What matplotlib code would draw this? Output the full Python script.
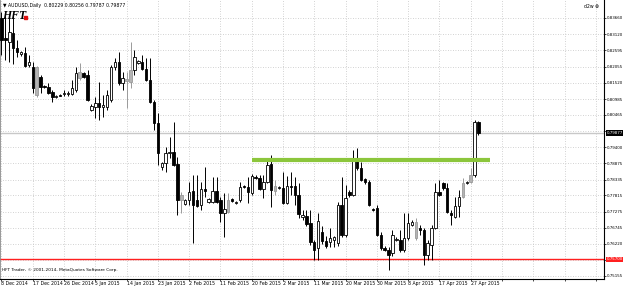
import matplotlib
matplotlib.use("Agg")
import matplotlib.pyplot as plt
from matplotlib.patches import Rectangle

# AUDUSD daily bars, 8 Dec 2014 .. 29 Apr 2015
opens = [0.8366, 0.8300, 0.8286, 0.8316, 0.8267, 0.8247, 0.8250, 0.8211, 0.8204, 0.8204,
         0.8171, 0.8141, 0.8138, 0.8121, 0.8107, 0.8112, 0.8116, 0.8116, 0.8115, 0.8128,
         0.8168, 0.8184, 0.8178, 0.8062, 0.8072, 0.8085, 0.8072, 0.8072, 0.8095, 0.8204,
         0.8220, 0.8151, 0.8164, 0.8154, 0.8194, 0.8217, 0.8220, 0.8197, 0.8161, 0.8088,
         0.8019, 0.7874, 0.7887, 0.7920, 0.7923, 0.7884, 0.7765, 0.7752, 0.7765, 0.7795,
         0.7765, 0.7749, 0.7801, 0.7758, 0.7758, 0.7795, 0.7765, 0.7722, 0.7725, 0.7768,
         0.7755, 0.7765, 0.7811, 0.7808, 0.7788, 0.7841, 0.7838, 0.7801, 0.7824, 0.7884,
         0.7811, 0.7805, 0.7805, 0.7755, 0.7811, 0.7811, 0.7782, 0.7709, 0.7712, 0.7689,
         0.7626, 0.7607, 0.7659, 0.7630, 0.7626, 0.7633, 0.7623, 0.7749, 0.7650, 0.7791,
         0.7782, 0.7897, 0.7871, 0.7834, 0.7824, 0.7735, 0.7739, 0.7650, 0.7607, 0.7600,
         0.7590, 0.7635, 0.7633, 0.7600, 0.7640, 0.7683, 0.7640, 0.7673, 0.7666, 0.7584,
         0.7617, 0.7673, 0.7791, 0.7821, 0.7805, 0.7722, 0.7709, 0.7745, 0.7775, 0.7821,
         0.7824, 0.7848, 0.80229]
highs = [0.8385, 0.8376, 0.8376, 0.8376, 0.8293, 0.8257, 0.8270, 0.8244, 0.8220, 0.8207,
         0.8178, 0.8145, 0.8151, 0.8128, 0.8112, 0.8115, 0.8128, 0.8125, 0.8161, 0.8204,
         0.8217, 0.8187, 0.8194, 0.8082, 0.8105, 0.8154, 0.8112, 0.8128, 0.8211, 0.8234,
         0.8253, 0.8187, 0.8187, 0.8286, 0.8260, 0.8227, 0.8244, 0.8234, 0.8234, 0.8095,
         0.8052, 0.7890, 0.7940, 0.7973, 0.8022, 0.7907, 0.7791, 0.7768, 0.7824, 0.7848,
         0.7848, 0.7824, 0.7874, 0.7772, 0.7841, 0.7841, 0.7775, 0.7788, 0.7788, 0.7772,
         0.7762, 0.7824, 0.7815, 0.7841, 0.7851, 0.7848, 0.7848, 0.7848, 0.7900, 0.7914,
         0.7831, 0.7811, 0.7857, 0.7844, 0.7857, 0.7841, 0.7821, 0.7732, 0.7732, 0.7732,
         0.7633, 0.7722, 0.7679, 0.7646, 0.7673, 0.7646, 0.7758, 0.7841, 0.7815, 0.7798,
         0.7930, 0.7937, 0.7890, 0.7838, 0.7831, 0.7739, 0.7749, 0.7659, 0.7613, 0.7610,
         0.7666, 0.7643, 0.7666, 0.7722, 0.7722, 0.7699, 0.7706, 0.7683, 0.7673, 0.7633,
         0.7683, 0.7821, 0.7831, 0.7824, 0.7821, 0.7732, 0.7775, 0.7798, 0.7838, 0.7828,
         0.7871, 0.8029, 0.80256]
lows = [0.8244, 0.8227, 0.8220, 0.8214, 0.8237, 0.8240, 0.8204, 0.8204, 0.8118, 0.8105,
        0.8118, 0.8135, 0.8115, 0.8088, 0.8102, 0.8108, 0.8108, 0.8108, 0.8112, 0.8121,
        0.8161, 0.8168, 0.8092, 0.8059, 0.8036, 0.8029, 0.8039, 0.8062, 0.8088, 0.8194,
        0.8145, 0.8128, 0.8069, 0.8135, 0.8178, 0.8214, 0.8194, 0.8158, 0.8085, 0.7996,
        0.7881, 0.7864, 0.7857, 0.7904, 0.7877, 0.7716, 0.7722, 0.7749, 0.7749, 0.7623,
        0.7742, 0.7732, 0.7775, 0.7755, 0.7755, 0.7755, 0.7692, 0.7643, 0.7722, 0.7758,
        0.7752, 0.7758, 0.7805, 0.7755, 0.7782, 0.7834, 0.7798, 0.7772, 0.7821, 0.7742,
        0.7782, 0.7801, 0.7752, 0.7752, 0.7782, 0.7749, 0.7706, 0.7699, 0.7679, 0.7617,
        0.7567, 0.7567, 0.7620, 0.7607, 0.7610, 0.7610, 0.7613, 0.7643, 0.7643, 0.7775,
        0.7778, 0.7864, 0.7828, 0.7818, 0.7745, 0.7729, 0.7646, 0.7600, 0.7597, 0.7534,
        0.7580, 0.7630, 0.7593, 0.7593, 0.7633, 0.7679, 0.7633, 0.7650, 0.7551, 0.7567,
        0.7567, 0.7669, 0.7778, 0.7798, 0.7722, 0.7683, 0.7706, 0.7709, 0.7772, 0.7818,
        0.7821, 0.7841, 0.79787]
closes = [0.8293, 0.8293, 0.8319, 0.8267, 0.8253, 0.8253, 0.8207, 0.8220, 0.8135, 0.8112,
          0.8138, 0.8138, 0.8118, 0.8105, 0.8108, 0.8110, 0.8118, 0.8118, 0.8135, 0.8184,
          0.8187, 0.8171, 0.8095, 0.8075, 0.8085, 0.8072, 0.8079, 0.8112, 0.8204, 0.8220,
          0.8151, 0.8168, 0.8158, 0.8194, 0.8237, 0.8224, 0.8197, 0.8161, 0.8088, 0.8019,
          0.7920, 0.7887, 0.7920, 0.7923, 0.7881, 0.7765, 0.7782, 0.7765, 0.7791, 0.7749,
          0.7745, 0.7801, 0.7795, 0.7768, 0.7795, 0.7758, 0.7722, 0.7735, 0.7765, 0.7762,
          0.7758, 0.7808, 0.7808, 0.7791, 0.7844, 0.7839, 0.7801, 0.7824, 0.7881, 0.7798,
          0.7795, 0.7808, 0.7755, 0.7811, 0.7808, 0.7782, 0.7719, 0.7716, 0.7686, 0.7626,
          0.7600, 0.7696, 0.7630, 0.7613, 0.7640, 0.7643, 0.7749, 0.7650, 0.7772, 0.7782,
          0.7897, 0.7871, 0.7831, 0.7824, 0.7749, 0.7734, 0.7650, 0.7607, 0.7600, 0.7584,
          0.7650, 0.7636, 0.7600, 0.7640, 0.7689, 0.7692, 0.7692, 0.7666, 0.7584, 0.7623,
          0.7673, 0.7791, 0.7782, 0.7805, 0.7725, 0.7716, 0.7745, 0.7775, 0.7821, 0.7824,
          0.7848, 0.8022, 0.79877]
grey_bars = [9, 20, 32, 33, 46, 58, 70, 106, 118, 120]

date_labels = ["8 Dec 2014", "17 Dec 2014", "26 Dec 2014", "5 Jan 2015", "14 Jan 2015",
               "23 Jan 2015", "2 Feb 2015", "11 Feb 2015", "20 Feb 2015", "2 Mar 2015",
               "11 Mar 2015", "20 Mar 2015", "30 Mar 2015", "8 Apr 2015", "17 Apr 2015",
               "27 Apr 2015"]
price_ticks = [0.83660, 0.83120, 0.82595, 0.82055, 0.81520, 0.80985, 0.80465, 0.79940,
               0.79400, 0.78875, 0.78335, 0.77815, 0.77275, 0.76745, 0.76220, 0.75690,
               0.75155]
hidden_ticks = [0.79940, 0.75690]  # covered by the price boxes in the terminal

bid = 0.79877
support = 0.75700
neckline = 0.7897
neck_start, neck_end = 64, 125

fig = plt.figure(figsize=(6.25, 2.87), dpi=100)
ax = fig.add_axes([0, 8 / 287, 604 / 625, 279 / 287])

for i in range(len(opens)):
    o, h, l, c = opens[i], highs[i], lows[i], closes[i]
    if i in grey_bars:
        edge, face = "#9a9a9a", "#b4b4b4"
    elif c >= o:
        edge, face = "black", "white"
    else:
        edge, face = "black", "black"
    ax.vlines(i, l, h, color=edge, lw=0.7, zorder=3)
    ax.bar(i, max(abs(c - o), 0.00005), bottom=min(o, c), width=0.62,
           facecolor=face, edgecolor=edge, lw=0.6, zorder=4)

ax.axhline(bid, color="#c8c8c8", lw=1.0, zorder=2)
ax.axhline(support, color="#ff2020", lw=1.0, zorder=2)
ax.hlines(neckline, neck_start, neck_end, color="#8cc63c", lw=3.0, zorder=5)

ax.set_xlim(-0.38, 154.1)
ax.set_ylim(0.75055, 0.84253)

ax.set_xticks(range(0, 154, 8))
ax.set_xticklabels(date_labels + [""] * 4, ha="left", fontsize=3.3)
ax.yaxis.tick_right()
ax.set_yticks(price_ticks)
ax.set_yticklabels(["" if p in hidden_ticks else "%.5f" % p for p in price_ticks],
                   fontsize=2.9)
ax.tick_params(axis="y", length=1.5, width=0.5, pad=0.8, colors="black")
ax.tick_params(axis="x", length=1.2, width=0.5, pad=0.2, colors="black")
ax.grid(color="#c4c4c4", linestyle=(0, (1, 2)), lw=0.6)
ax.set_axisbelow(True)

ax.spines["top"].set_visible(False)
ax.spines["left"].set_color("#888888")
ax.spines["left"].set_linewidth(0.6)
ax.spines["right"].set_linewidth(0.8)
ax.spines["bottom"].set_linewidth(0.8)

for value, box in [(bid, "black"), (support, "#ff2020")]:
    ax.text(1.004, value, "%.5f" % value, transform=ax.get_yaxis_transform(),
            fontsize=2.9, color="white", va="center", ha="left", zorder=6,
            clip_on=False, bbox=dict(boxstyle="square,pad=0.2", fc=box, ec="none"))

fig.text(3 / 625, 1 - 5 / 287, "\u25bc AUDUSD,Daily  0.80229 0.80256 0.79787 0.79877",
         fontsize=3.3, va="center", ha="left")
fig.text(2 / 625, 1 - 19 / 287, "HFT", fontsize=8.5, family="Liberation Serif",
         style="italic", weight="bold", va="baseline", ha="left")
fig.patches.append(Rectangle((24 / 625, 1 - 19 / 287), 3 / 625, 3 / 287,
                             transform=fig.transFigure, color="#e01010"))
fig.text(2 / 625, 1 - 270 / 287, "HFT Trader, \u00a9 2001-2014, MetaQuotes Software Corp.",
         fontsize=3.1, va="center", ha="left")
fig.text(584 / 625, 1 - 7 / 287, "d2w \u2297", fontsize=3.3, va="center", ha="left")

fig.savefig("out.png", dpi=100)
